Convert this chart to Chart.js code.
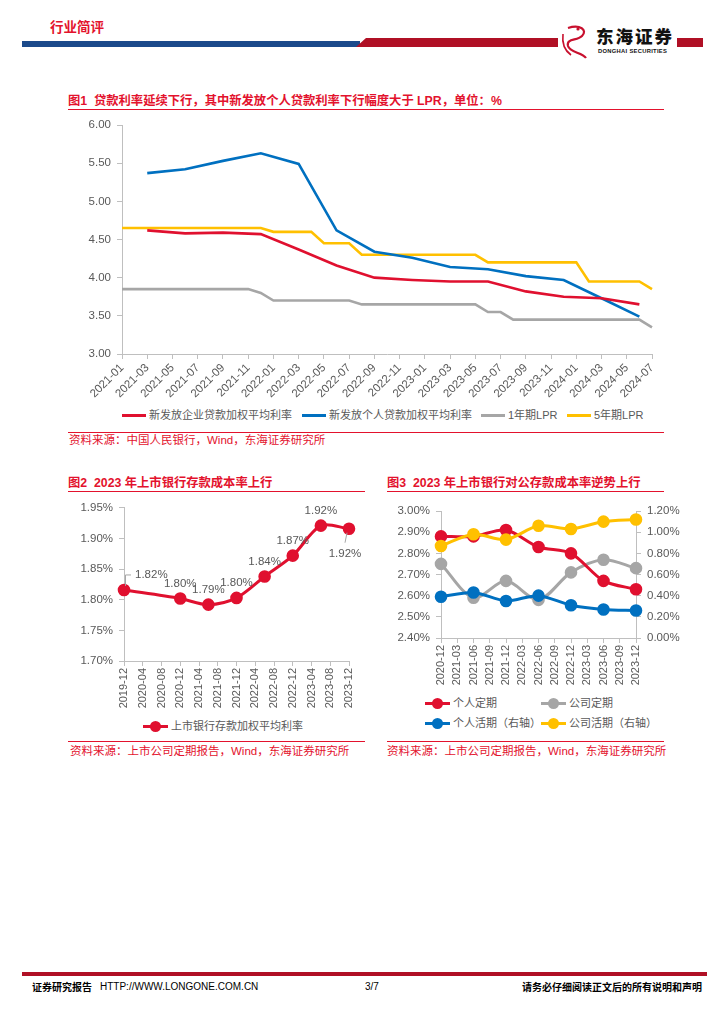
<!DOCTYPE html>
<html>
<head>
<meta charset="utf-8">
<script src="https://cdn.jsdelivr.net/npm/chart.js@4.4.0/dist/chart.umd.min.js"></script>
<style>
body{margin:0;width:724px;height:1024px;position:relative;background:#fff;overflow:hidden;font-family:"Liberation Sans","Noto Sans CJK SC",sans-serif}
.ttl{position:absolute;color:#E3122D;font-weight:700;font-size:12.3px;white-space:nowrap;line-height:14px}
.rule{position:absolute;height:0;border-top:1.5px solid #E3122D}
.src{position:absolute;color:#E3122D;font-size:11.5px;white-space:nowrap;line-height:14px}
.box{position:absolute}
.lg{position:absolute;font-size:11px;color:#595959;white-space:nowrap;display:flex;align-items:center;line-height:14px}
.lg i{display:inline-block;width:24px;height:3px;margin-right:3px;position:relative}
.lg.mk i{width:25px}
.lg.mk i:after{content:"";position:absolute;left:7px;top:-4px;width:11px;height:11px;border-radius:50%;background:inherit}
.foot{position:absolute;top:981px;font-size:10px;line-height:12px;color:#000;white-space:nowrap}
</style>
</head>
<body>

<!-- header -->
<div class="ttl" style="left:50px;top:20px;font-size:13.5px;line-height:16px;color:#E3122D">行业简评</div>
<svg class="box" style="left:0;top:0" width="724" height="62">
  <rect x="22" y="41" width="338" height="6" fill="#1B4A8B"/>
  <polygon points="356,47 366,38 558,38 558,47" fill="#B01025"/>
  <rect x="677" y="38" width="26" height="9" fill="#B01025"/>
  <path d="M568,28 C580,24 588,30 582,36 C577,41 566,38 568,46 C570,53 582,52 586,58" stroke="#C8102E" stroke-width="2.2" fill="none"/>
  <path d="M563,34 C562,42 564,50 571,55" stroke="#C8102E" stroke-width="1.6" fill="none"/>
  <circle cx="578" cy="29" r="1.6" fill="#C8102E"/>
</svg>
<div class="box" style="left:596px;top:26px;font-size:17.5px;font-weight:900;letter-spacing:2px;font-family:'Noto Sans CJK SC';line-height:20px;color:#111">东海证券</div>
<div class="box" style="left:598px;top:48px;font-size:5.8px;font-weight:700;line-height:7px;color:#111;letter-spacing:0.3px">DONGHAI SECURITIES</div>

<!-- figure 1 -->
<div class="ttl" style="left:68px;top:94px">图1&nbsp; 贷款利率延续下行，其中新发放个人贷款利率下行幅度大于 LPR，单位：%</div>
<div class="rule" style="left:68px;top:109px;width:596px"></div>
<div class="box" style="left:60px;top:110px;width:604px;height:290px"><canvas id="c1"></canvas></div>
<div class="lg" style="left:122px;top:408px"><i style="background:#E0102F"></i>新发放企业贷款加权平均利率</div>
<div class="lg" style="left:302px;top:408px"><i style="background:#0070C0"></i>新发放个人贷款加权平均利率</div>
<div class="lg" style="left:481px;top:408px"><i style="background:#A6A6A6"></i>1年期LPR</div>
<div class="lg" style="left:567px;top:408px"><i style="background:#FFC000"></i>5年期LPR</div>
<div class="rule" style="left:68px;top:432px;width:596px"></div>
<div class="src" style="left:69px;top:433px">资料来源：中国人民银行，Wind，东海证券研究所</div>

<!-- figure 2 -->
<div class="ttl" style="left:68px;top:476px">图2&nbsp; 2023 年上市银行存款成本率上行</div>
<div class="rule" style="left:68px;top:491px;width:297px"></div>
<div class="box" style="left:60px;top:495px;width:306px;height:214px"><canvas id="c2"></canvas></div>
<div class="lg mk" style="left:143px;top:719px"><i style="background:#E0102F"></i>上市银行存款加权平均利率</div>
<div class="rule" style="left:68px;top:741px;width:297px"></div>
<div class="src" style="left:70px;top:744px">资料来源：上市公司定期报告，Wind，东海证券研究所</div>

<!-- figure 3 -->
<div class="ttl" style="left:387px;top:476px">图3&nbsp; 2023 年上市银行对公存款成本率逆势上行</div>
<div class="rule" style="left:387px;top:491px;width:277px"></div>
<div class="box" style="left:386px;top:495px;width:304px;height:191px"><canvas id="c3"></canvas></div>
<div class="lg mk" style="left:425px;top:696px"><i style="background:#E0102F"></i>个人定期</div>
<div class="lg mk" style="left:541px;top:696px"><i style="background:#A6A6A6"></i>公司定期</div>
<div class="lg mk" style="left:425px;top:716px"><i style="background:#0070C0"></i>个人活期（右轴）</div>
<div class="lg mk" style="left:541px;top:716px"><i style="background:#FFC000"></i>公司活期（右轴）</div>
<div class="rule" style="left:387px;top:741px;width:277px"></div>
<div class="src" style="left:387px;top:744px">资料来源：上市公司定期报告，Wind，东海证券研究所</div>

<!-- footer -->
<div class="box" style="left:22px;top:972px;width:685px;height:4px;background:#B01025"></div>
<div class="foot" style="left:32px;font-weight:700;font-family:'Noto Sans CJK SC'">证券研究报告</div>
<div class="foot" style="left:100px">HTTP://WWW.LONGONE.COM.CN</div>
<div class="foot" style="left:365px">3/7</div>
<div class="foot" style="right:22px;font-weight:700;font-family:'Noto Sans CJK SC'">请务必仔细阅读正文后的所有说明和声明</div>

<script>
"use strict"

const monthRange = (y, m, n) => {
  const out = [];
  for (let i = 0; i < n; i++) {
    const yy = y + Math.floor((m - 1 + i) / 12);
    const mm = (m - 1 + i) % 12 + 1;
    out.push(yy + "-" + String(mm).padStart(2, "0"));
  }
  return out;
};

// ---------------- figure 1 data ----------------
const months1 = monthRange(2021, 1, 43);
const loanDates = ["2021-03","2021-06","2021-09","2021-12","2022-03","2022-06","2022-09","2022-12","2023-03","2023-06","2023-09","2023-12","2024-03","2024-06"];
const corpRate = [4.62,4.58,4.59,4.57,4.37,4.16,4.00,3.97,3.95,3.95,3.82,3.75,3.73,3.65];
const personRate = [5.37,5.42,5.53,5.63,5.49,4.62,4.34,4.26,4.14,4.11,4.02,3.97,3.73,3.49];
const lpr1y = [3.85,3.85,3.85,3.85,3.85,3.85,3.85,3.85,3.85,3.85,3.85,3.80,
               3.70,3.70,3.70,3.70,3.70,3.70,3.70,3.65,3.65,3.65,3.65,3.65,
               3.65,3.65,3.65,3.65,3.65,3.55,3.55,3.45,3.45,3.45,3.45,3.45,
               3.45,3.45,3.45,3.45,3.45,3.45,3.35];
const lpr5y = [4.65,4.65,4.65,4.65,4.65,4.65,4.65,4.65,4.65,4.65,4.65,4.65,
               4.60,4.60,4.60,4.60,4.45,4.45,4.45,4.30,4.30,4.30,4.30,4.30,
               4.30,4.30,4.30,4.30,4.30,4.20,4.20,4.20,4.20,4.20,4.20,4.20,
               4.20,3.95,3.95,3.95,3.95,3.95,3.85];

// ---------------- figure 2 data ----------------
const months2 = monthRange(2019, 12, 49);
const depositDates = ["2019-12","2020-12","2021-06","2021-12","2022-06","2022-12","2023-06","2023-12"];
const depositRate = [1.816,1.802,1.792,1.803,1.838,1.872,1.921,1.916];
const depositLabels = ["1.82%","1.80%","1.79%","1.80%","1.84%","1.87%","1.92%","1.92%"];

// ---------------- figure 3 data ----------------
const quarters3 = ["2020-12","2021-03","2021-06","2021-09","2021-12","2022-03","2022-06","2022-09","2022-12","2023-03","2023-06","2023-09","2023-12"];
const halfDates = ["2020-12","2021-06","2021-12","2022-06","2022-12","2023-06","2023-12"];
const personTime = [2.88,2.88,2.91,2.83,2.80,2.67,2.63];
const corpTime = [2.75,2.59,2.67,2.58,2.71,2.77,2.73];
const personDemand = [0.39,0.43,0.35,0.40,0.31,0.27,0.26];
const corpDemand = [0.87,0.98,0.93,1.06,1.03,1.10,1.12];

const pairs = (dates, vals) => dates.map((d, i) => ({ x: d, y: vals[i] }));

const tickFont = { family: "Liberation Sans", size: 11.5 };
const tickColor = "#595959";
const axisColor = "#BFBFBF";

// ---------------- figure 1 ----------------
new Chart(document.getElementById("c1"), {
  type: "line",
  data: {
    labels: months1,
    datasets: [
      { label: "新发放企业贷款加权平均利率", data: pairs(loanDates, corpRate), borderColor: "#E0102F" },
      { label: "新发放个人贷款加权平均利率", data: pairs(loanDates, personRate), borderColor: "#0070C0" },
      { label: "1年期LPR", data: lpr1y, borderColor: "#A6A6A6" },
      { label: "5年期LPR", data: lpr5y, borderColor: "#FFC000" },
    ],
  },
  options: {
    animation: false,
    responsive: true,
    maintainAspectRatio: false,
    layout: { padding: { top: 15, right: 12 } },
    plugins: { legend: { display: false }, tooltip: { enabled: false } },
    elements: { point: { radius: 0 }, line: { borderWidth: 2.6, tension: 0 } },
    scales: {
      x: {
        offset: false,
        grid: { drawOnChartArea: false, tickLength: 5, color: (c) => (c.index % 2 ? "rgba(0,0,0,0)" : axisColor) },
        border: { color: axisColor },
        ticks: {
          autoSkip: false, maxRotation: 45, minRotation: 45, font: tickFont, color: tickColor, padding: 2,
          callback: (v, i) => (i % 2 ? "" : months1[i]),
        },
        afterFit: (s) => { s.height = 46; },
      },
      y: {
        min: 3, max: 6,
        ticks: { stepSize: 0.5, font: tickFont, color: tickColor, padding: 6, callback: (v) => v.toFixed(2) },
        grid: { drawOnChartArea: false, tickLength: 5, color: axisColor },
        border: { color: axisColor },
        afterFit: (s) => { s.width = 62; },
      },
    },
  },
});

// ---------------- figure 2 ----------------
const pointLabels = {
  id: "pointLabels",
  afterDatasetsDraw(chart) {
    const ctx = chart.ctx;
    const pts = chart.getDatasetMeta(0).data;
    ctx.save();
    ctx.font = '11.5px "Liberation Sans"';
    ctx.fillStyle = "#595959";
    ctx.strokeStyle = "#A6A6A6";
    ctx.lineWidth = 1;
    ctx.textBaseline = "middle";
    pts.forEach((p, i) => {
      ctx.textAlign = "center";
      let x = p.x, y = p.y - 15;
      if (i === 0) {
        ctx.beginPath();
        ctx.moveTo(p.x + 1.5, p.y - 4);
        ctx.lineTo(p.x + 1.5, p.y - 15);
        ctx.lineTo(p.x + 7, p.y - 15);
        ctx.stroke();
        ctx.textAlign = "left";
        x = p.x + 11;
      } else if (i === pts.length - 1) {
        ctx.beginPath();
        ctx.moveTo(p.x - 2, p.y + 4);
        ctx.lineTo(p.x - 4, p.y + 14);
        ctx.stroke();
        x = p.x - 4;
        y = p.y + 25;
      }
      ctx.fillText(depositLabels[i], x, y);
    });
    ctx.restore();
  },
};

new Chart(document.getElementById("c2"), {
  type: "line",
  data: {
    labels: months2,
    datasets: [
      {
        label: "上市银行存款加权平均利率", data: pairs(depositDates, depositRate),
        borderColor: "#E0102F", backgroundColor: "#E0102F", borderWidth: 3, tension: 0.3,
        pointRadius: 4.8, pointBackgroundColor: "#E0102F", pointBorderColor: "#E0102F",
      },
    ],
  },
  options: {
    animation: false,
    responsive: true,
    maintainAspectRatio: false,
    layout: { padding: { top: 12, right: 17 } },
    plugins: { legend: { display: false }, tooltip: { enabled: false } },
    scales: {
      x: {
        offset: false,
        grid: { drawOnChartArea: false, tickLength: 5, color: (c) => (c.index % 4 ? "rgba(0,0,0,0)" : axisColor) },
        border: { color: axisColor },
        ticks: {
          autoSkip: false, maxRotation: 90, minRotation: 90, font: { family: "Liberation Sans", size: 11 }, color: tickColor, padding: 2,
          callback: (v, i) => (i % 4 ? "" : months2[i]),
        },
        afterFit: (s) => { s.height = 48; },
      },
      y: {
        min: 1.7, max: 1.95,
        ticks: { stepSize: 0.05, font: tickFont, color: tickColor, padding: 6, callback: (v) => v.toFixed(2) + "%" },
        grid: { drawOnChartArea: false, tickLength: 5, color: axisColor },
        border: { color: axisColor },
        afterFit: (s) => { s.width = 64; },
      },
    },
  },
  plugins: [pointLabels],
});

// ---------------- figure 3 ----------------
const series3 = (label, dates, vals, color, axis, order) => ({
  label, data: pairs(dates, vals), yAxisID: axis, order,
  borderColor: color, backgroundColor: color, borderWidth: 3, tension: 0.3,
  pointRadius: 4.8, pointBackgroundColor: color, pointBorderColor: color,
});

new Chart(document.getElementById("c3"), {
  type: "line",
  data: {
    labels: quarters3,
    datasets: [
      series3("个人定期", halfDates, personTime, "#E0102F", "y", 3),
      series3("公司定期", halfDates, corpTime, "#A6A6A6", "y", 4),
      series3("个人活期（右轴）", halfDates, personDemand, "#0070C0", "y1", 2),
      series3("公司活期（右轴）", halfDates, corpDemand, "#FFC000", "y1", 1),
    ],
  },
  options: {
    animation: false,
    responsive: true,
    maintainAspectRatio: false,
    layout: { padding: { top: 16 } },
    plugins: { legend: { display: false }, tooltip: { enabled: false } },
    scales: {
      x: {
        offset: false,
        grid: { drawOnChartArea: false, tickLength: 5, color: axisColor },
        border: { color: axisColor },
        ticks: { autoSkip: false, maxRotation: 90, minRotation: 90, font: { family: "Liberation Sans", size: 11 }, color: tickColor, padding: 2 },
        afterFit: (s) => { s.height = 48; },
      },
      y: {
        position: "left", min: 2.4, max: 3.0,
        ticks: { stepSize: 0.1, font: tickFont, color: tickColor, padding: 6, callback: (v) => v.toFixed(2) + "%" },
        grid: { drawOnChartArea: false, tickLength: 5, color: axisColor },
        border: { color: axisColor },
        afterFit: (s) => { s.width = 55; },
      },
      y1: {
        position: "right", min: 0, max: 1.2,
        ticks: { stepSize: 0.2, font: tickFont, color: tickColor, padding: 6, callback: (v) => v.toFixed(2) + "%" },
        grid: { drawOnChartArea: false, tickLength: 5, color: axisColor },
        border: { color: axisColor },
        afterFit: (s) => { s.width = 54; },
      },
    },
  },
});
</script>
</body>
</html>
